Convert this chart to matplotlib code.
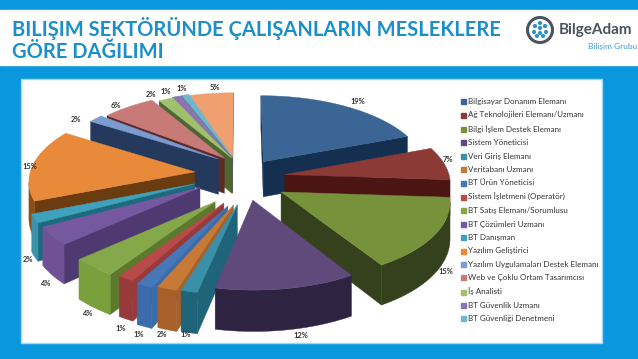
import numpy as np
import matplotlib
matplotlib.use("Agg")
import matplotlib.pyplot as plt
from matplotlib.patches import Polygon, Rectangle, Circle
from matplotlib.lines import Line2D

plt.rcParams['font.family'] = ['Lato', 'DejaVu Sans']

# Data
categories = ["Bilgisayar Donanım Elemanı", "Ağ Teknolojileri Elemanı/Uzmanı", "Bilgi İşlem Destek Elemanı",
              "Sistem Yöneticisi", "Veri Giriş Elemanı", "Veritabanı Uzmanı", "BT Ürün Yöneticisi",
              "Sistem İşletmeni (Operatör)", "BT Satış Elemanı/Sorumlusu", "BT Çözümleri Uzmanı",
              "BT Danışman", "Yazılım Geliştirici", "Yazılım Uygulamaları Destek Elemanı",
              "Web ve Çoklu Ortam Tasarımcısı", "İş Analisti", "BT Güvenlik Uzmanı", "BT Güvenliği Denetmeni"]
shares = [18.7, 6.8, 14.8, 11.8, 1.4, 1.7, 1.4, 1.4, 3.8, 3.8, 1.8, 14.8, 1.6, 5.8, 1.6, 1.0, 0.8, 4.8]

# Colours: top face, radial wall, outer wall
top_colors = ["#3a6595", "#8c3a36", "#76933c", "#604a7b", "#3a90a8", "#c77a35", "#4677b8", "#b84a4a", "#84a84a",
              "#7658a0", "#3ea2bd", "#e88a3a", "#7a9cd0", "#c87a78", "#a0c070", "#8a76ac", "#6cb8d0", "#f0a070"]
wall_colors = ["#142f4f", "#4a1512", "#35401c", "#2e2340", "#1f6478", "#a8602a", "#3a6cab", "#983a3a", "#5d7a2c",
               "#4e3a70", "#1c6a7d", "#6a3c10", "#25395c", "#5c2a28", "#4d6632", "#463a66", "#2c6f85", "#7a4a28"]
rim_colors = ["#142f4f", "#4a1512", "#35401c", "#2e2340", "#1f6478", "#a8602a", "#3a6cab", "#983a3a", "#7aa03c",
              "#6f5296", "#3a93ad", "#8a4f18", "#25395c", "#5c2a28", "#4d6632", "#463a66", "#2c6f85", "#7a4a28"]

BLUE = "#0b97dd"

# 3D pie projection settings (pixels)
CX, CY = 236, 180
RX, RY = 165, 76
PERSP = 0.1
HEIGHT = 36
EXPLODE = 0.3

# small per slice shifts, the original 3D view is not a clean projection
shifts = [(0, 0), (0, -2), (2, 0), (8, -3), (14, 2), (15, 3), (14, 5), (14, 3), (12, 4), (5, -6), (4, -6),
          (8, -6), (22, -8), (20, -5), (18, -2), (14, -2), (12, -2), (4, 0)]
label_nudges = [(11, -4), (1, -4), (8, -3), (14, 4), (-2, 0), (-4, 3), (-4, 6), (-3, 8), (-4, 5), (-4, 7), (-3, 2),
                (0, 2), (-17, 2), (-11, -1), (-14, -4), (-10, -4), (-3, -5), (5, -5)]


def project(x, y, z=0.0):
    s = 1 / (1 + PERSP * y)
    return CX + RX * x * s, CY - (RY * y + HEIGHT * z) * s


def signed_area(pts):
    pts = np.array(pts)
    x, y = pts[:, 0], pts[:, 1]
    return 0.5 * np.sum(x * np.roll(y, -1) - np.roll(x, -1) * y)


fig = plt.figure(figsize=(6.38, 3.59), dpi=100)
ax = fig.add_axes([0, 0, 1, 1])
ax.set_xlim(0, 638)
ax.set_ylim(359, 0)
ax.axis('off')

# Slide background
ax.add_patch(Rectangle((0, 0), 638, 359, color=BLUE, zorder=0))
ax.add_patch(Rectangle((0, 10), 638, 55, color="white", zorder=1))
ax.add_patch(Rectangle((21, 79), 581, 264, facecolor="white", edgecolor="#9ed8f2", lw=1, zorder=1))

# Title
ax.text(12, 29, "BILIŞIM SEKTÖRÜNDE ÇALIŞANLARIN MESLEKLERE", fontsize=14.5, fontweight='bold',
        color="#1c8fcb", va='center', ha='left', zorder=5)
ax.text(12, 52, "GÖRE DAĞILIMI", fontsize=14.5, fontweight='bold', color="#1c8fcb",
        va='center', ha='left', zorder=5)

# Logo
ax.add_patch(Circle((540, 30), 12.5, facecolor="white", edgecolor="#4a5560", lw=2.2, zorder=5))
for dx, dy in [(0, -7), (-5, -4), (5, -4), (-6, 2), (6, 2), (0, -2), (-3, 6), (3, 6), (0, 3)]:
    ax.add_patch(Circle((540 + dx, 30 + dy), 1.4, color="#2f93c9", zorder=6))
ax.text(559, 30, "BilgeAdam", fontsize=11, fontweight='bold', color="#4a5560", va='center', ha='left', zorder=5)
ax.text(637, 47, "Bilişim Grubu", fontsize=6, color="#3e9bd0", va='center', ha='right', zorder=5)

# Slices, drawn from the shares
total = sum(shares)
edges = np.cumsum([0] + shares) / total * 2 * np.pi
mids = (edges[:-1] + edges[1:]) / 2
order = np.argsort(-np.cos(mids))  # far slices first

z = 10
for i in order:
    a0, a1 = edges[i], edges[i + 1]
    ex, ey = EXPLODE * np.sin(mids[i]), EXPLODE * np.cos(mids[i])
    th = np.linspace(a0, a1, max(4, int(np.degrees(a1 - a0) / 2) + 2))
    ground = [(ex, ey)] + [(ex + np.sin(t), ey + np.cos(t)) for t in th]
    sx, sy = shifts[i]
    top = [(px + sx, py + sy) for px, py in (project(x, y) for x, y in ground)]
    bottom = [(px + sx, py + sy) for px, py in (project(x, y, -1) for x, y in ground)]
    sign = np.sign(signed_area(top))

    # Walls seen from the camera
    n = len(ground)
    radial = []
    rim_run = []
    rims = []
    for k in range(n):
        m = (k + 1) % n
        quad = [top[k], top[m], bottom[m], bottom[k]]
        seen = np.sign(signed_area(quad)) != sign
        if k == 0 or m == 0:
            if seen:
                radial.append(quad)
        elif seen:
            rim_run.append(k)
        elif rim_run:
            rims.append(rim_run)
            rim_run = []
    if rim_run:
        rims.append(rim_run)

    for quad in radial:
        ax.add_patch(Polygon(quad, closed=True, facecolor=wall_colors[i], edgecolor=wall_colors[i], lw=0.3, zorder=z))
    for run in rims:
        ids = run + [run[-1] + 1]
        outline = [top[k] for k in ids] + [bottom[k] for k in reversed(ids)]
        ax.add_patch(Polygon(outline, closed=True, facecolor=rim_colors[i], edgecolor=rim_colors[i], lw=0.3, zorder=z))
    ax.add_patch(Polygon(top, closed=True, facecolor=top_colors[i], edgecolor=top_colors[i], lw=0.3, zorder=z + 1))
    z += 2

# Percentage labels
for i, share in enumerate(shares):
    ex, ey = EXPLODE * np.sin(mids[i]), EXPLODE * np.cos(mids[i])
    x, y = ex + 1.02 * np.sin(mids[i]), ey + 1.02 * np.cos(mids[i])
    px, py = project(x, y, -1 if np.cos(mids[i]) < 0 else 0)
    ax.text(px + shifts[i][0] + label_nudges[i][0], py + shifts[i][1] + label_nudges[i][1], f"{round(share)}%",
            fontsize=5.4, fontweight='bold', color="#333333", ha='center', va='center', zorder=100)

# Legend
handles = [Line2D([], [], marker='s', ls='none', ms=3.6, color=top_colors[i]) for i in range(len(categories))]
ax.legend(handles, categories, loc='upper left', bbox_to_anchor=(459 / 638, 1 - 98 / 359), frameon=False,
          fontsize=5.75, labelspacing=0.8, handletextpad=0.1, handlelength=1.0, borderpad=0, borderaxespad=0,
          labelcolor="#333333")

fig.savefig("out.png", dpi=100)
